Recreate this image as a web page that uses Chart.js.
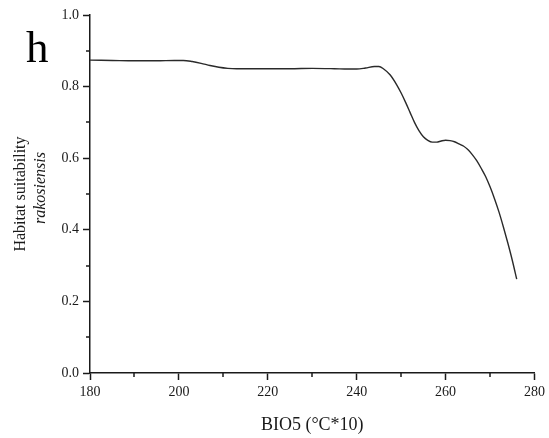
<!DOCTYPE html>
<html>
<head>
<meta charset="utf-8">
<script src="https://cdn.jsdelivr.net/npm/chart.js@4/dist/chart.umd.min.js"></script>
<style>
  html, body { margin: 0; padding: 0; background: #fff; }
  #wrap { width: 549px; height: 438px; position: relative; }
</style>
</head>
<body>
<div id="wrap"><canvas id="c" width="549" height="438"></canvas></div>
<script>
// BIO5 values (°C*10)
const bio5 = [180, 185, 190, 195, 199, 201, 203, 205, 207, 209, 211, 213, 215, 220, 225, 230, 235, 238, 240, 242, 244, 245, 246, 247.5, 249, 250, 251, 252, 253, 254, 255, 256, 257, 258, 259, 260, 261, 262, 263, 264, 265, 266, 267, 268, 269, 270, 271, 272, 273, 274, 275, 276];
// Habitat suitability
const suitability = [0.874, 0.873, 0.872, 0.872, 0.873, 0.873, 0.870, 0.865, 0.859, 0.854, 0.851, 0.850, 0.850, 0.850, 0.850, 0.851, 0.850, 0.849, 0.849, 0.852, 0.856, 0.856, 0.850, 0.833, 0.805, 0.782, 0.756, 0.728, 0.700, 0.677, 0.660, 0.650, 0.645, 0.645, 0.648, 0.650, 0.649, 0.646, 0.640, 0.634, 0.624, 0.610, 0.593, 0.572, 0.549, 0.520, 0.487, 0.450, 0.408, 0.363, 0.315, 0.262];
const xMajorTicks = [180, 200, 220, 240, 260, 280];
const xMinorTicks = [190, 210, 230, 250, 270];
const yMajorTicks = [0.0, 0.2, 0.4, 0.6, 0.8, 1.0];
const yMinorTicks = [0.1, 0.3, 0.5, 0.7, 0.9];
const panelLabel = 'h';
const yTitleLine1 = 'Habitat suitability';
const yTitleLine2 = 'rakosiensis';
const xTitle = 'BIO5 (°C*10)';

const serif = '"Liberation Serif", "Times New Roman", serif';
const ink = '#1a1a1a';

const points = bio5.map((x, i) => ({ x: x, y: suitability[i] }));

const extras = {
  id: 'extras',
  afterDraw(chart) {
    const ctx = chart.ctx;
    const xs = chart.scales.x, ys = chart.scales.y;
    ctx.save();
    ctx.strokeStyle = ink;
    ctx.lineWidth = 1.5;
    // minor ticks
    xMinorTicks.forEach(v => {
      const px = Math.round(xs.getPixelForValue(v));
      ctx.beginPath();
      ctx.moveTo(px, ys.bottom);
      ctx.lineTo(px, ys.bottom + 4);
      ctx.stroke();
    });
    yMinorTicks.forEach(v => {
      const py = Math.round(ys.getPixelForValue(v));
      ctx.beginPath();
      ctx.moveTo(xs.left, py);
      ctx.lineTo(xs.left - 4, py);
      ctx.stroke();
    });
    // panel label
    ctx.fillStyle = '#000';
    ctx.font = '45px ' + serif;
    ctx.textAlign = 'left';
    ctx.textBaseline = 'alphabetic';
    ctx.fillText(panelLabel, 26, 62);
    // y-axis title (two lines, second italic)
    ctx.fillStyle = ink;
    ctx.save();
    ctx.translate(21, 194);
    ctx.rotate(-Math.PI / 2);
    ctx.textAlign = 'center';
    ctx.textBaseline = 'middle';
    ctx.font = '16px ' + serif;
    ctx.fillText(yTitleLine1, 0, 0);
    ctx.font = 'italic 16px ' + serif;
    ctx.fillText(yTitleLine2, 6, 20);
    ctx.restore();
    ctx.restore();
  }
};

new Chart(document.getElementById('c'), {
  type: 'line',
  data: {
    datasets: [{
      data: points,
      borderColor: '#2a2a2a',
      borderWidth: 1.4,
      pointRadius: 0,
      fill: false,
      cubicInterpolationMode: 'monotone'
    }]
  },
  options: {
    responsive: false,
    animation: false,
    devicePixelRatio: 1,
    layout: { padding: { left: 0, right: 14, top: 15, bottom: 0 } },
    plugins: { legend: { display: false }, tooltip: { enabled: false } },
    scales: {
      x: {
        type: 'linear',
        min: 180, max: 280,
        afterBuildTicks: s => { s.ticks = xMajorTicks.map(v => ({ value: v })); },
        afterFit: s => { s.height = 65; },
        grid: { display: true, drawOnChartArea: false, drawTicks: true, tickLength: 7, tickColor: ink, tickWidth: 1.5 },
        border: { display: true, color: ink, width: 1.5 },
        ticks: { color: ink, font: { family: serif, size: 14 }, padding: 4, maxRotation: 0,
                 callback: v => String(v) },
        title: { display: true, text: xTitle, color: ink, font: { family: serif, size: 18 }, padding: { top: 4, bottom: 2 } }
      },
      y: {
        min: 0, max: 1,
        afterBuildTicks: s => { s.ticks = yMajorTicks.map(v => ({ value: v })); },
        afterFit: s => { s.width = 90; },
        grid: { display: true, drawOnChartArea: false, drawTicks: true, tickLength: 7, tickColor: ink, tickWidth: 1.5 },
        border: { display: true, color: ink, width: 1.5 },
        ticks: { color: ink, font: { family: serif, size: 14 }, padding: 4,
                 callback: v => Number(v).toFixed(1) }
      }
    }
  },
  plugins: [extras]
});
</script>
</body>
</html>
